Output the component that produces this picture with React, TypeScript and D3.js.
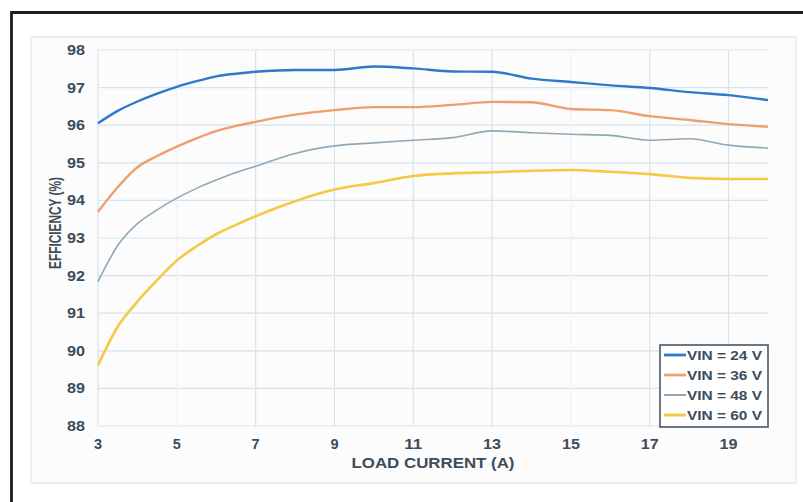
import React from "react";
import * as d3 from "d3";

const loadCurrent = [3, 3.5, 4, 4.5, 5, 5.5, 6, 6.5, 7, 8, 9, 10, 11, 12, 13, 14, 15, 16, 17, 18, 19, 20];
const vin24 = [96.05, 96.38, 96.63, 96.84, 97.02, 97.17, 97.3, 97.37, 97.42, 97.47, 97.47, 97.56, 97.51, 97.43, 97.42, 97.24, 97.15, 97.06, 96.99, 96.88, 96.8, 96.67];
const vin36 = [93.7, 94.35, 94.88, 95.18, 95.43, 95.65, 95.84, 95.98, 96.09, 96.28, 96.4, 96.48, 96.48, 96.54, 96.62, 96.61, 96.43, 96.4, 96.24, 96.14, 96.03, 95.96];
const vin48 = [91.84, 92.8, 93.38, 93.75, 94.06, 94.32, 94.54, 94.74, 94.91, 95.25, 95.45, 95.53, 95.6, 95.67, 95.85, 95.8, 95.76, 95.73, 95.6, 95.64, 95.47, 95.39];
const vin60 = [89.62, 90.64, 91.31, 91.88, 92.4, 92.78, 93.1, 93.35, 93.58, 93.98, 94.29, 94.46, 94.65, 94.72, 94.75, 94.79, 94.81, 94.76, 94.7, 94.6, 94.57, 94.57];
const seriesNames = ["VIN = 24 V", "VIN = 36 V", "VIN = 48 V", "VIN = 60 V"];
const xTicks = [3, 5, 7, 9, 11, 13, 15, 17, 19];
const yTicks = [88, 89, 90, 91, 92, 93, 94, 95, 96, 97, 98];

const seriesValues = [vin24, vin36, vin48, vin60];
const seriesColors = ["#2f78cc", "#ee9f6c", "#90a8b6", "#f6c843"];
const seriesWidths = [2.4, 2.4, 1.6, 2.6];

export default function App() {
  const W = 803, H = 502;
  const x = d3.scaleLinear().domain([3, 20]).range([98, 768]);
  const y = d3.scaleLinear().domain([88, 98]).range([426, 50]);
  const line = d3
    .line<[number, number]>()
    .x((d) => x(d[0]))
    .y((d) => y(d[1]))
    .curve(d3.curveMonotoneX);
  const font = "'Liberation Sans', Arial, sans-serif";
  const txt = "#3b4d5b";
  return (
    <svg width={W} height={H} style={{ position: "absolute", left: 0, top: 0 }} fontFamily={font}>
      <rect x={0} y={0} width={W} height={H} fill="#ffffff" />
      <path d={`M11.5,${H + 5} L11.5,12.5 L${W + 5},12.5`} fill="none" stroke="#1e1e1e" strokeWidth={2.8} />
      <rect x={31} y={37} width={765} height={446} fill="#fdfcfc" stroke="#e3e3e3" strokeWidth={1.2} />
      {yTicks.map((t) => (
        <line key={"gy" + t} x1={98} x2={768} y1={y(t)} y2={y(t)} stroke="#d5e3ee" strokeWidth={1.2} />
      ))}
      {xTicks.map((t) => (
        <line
          key={"gx" + t}
          x1={x(t)}
          x2={x(t)}
          y1={50}
          y2={426}
          stroke={t === 5 || t === 15 ? "#eef3f7" : "#d5e3ee"}
          strokeWidth={1.2}
        />
      ))}
      {yTicks.map((t) => (
        <text key={"ty" + t} x={85} y={y(t) + 5} textAnchor="end" fontSize={14.5} fontWeight="bold" fill={txt} textLength={18} lengthAdjust="spacingAndGlyphs">
          {t}
        </text>
      ))}
      {xTicks.map((t) => (
        <text
          key={"tx" + t}
          x={x(t)}
          y={448.5}
          textAnchor="middle"
          fontSize={14.5}
          fontWeight="bold"
          fill={txt}
          {...(t >= 10 ? { textLength: 18, lengthAdjust: "spacingAndGlyphs" } : {})}
        >
          {t}
        </text>
      ))}
      <text x={433} y={467.5} textAnchor="middle" fontSize={15.5} fontWeight="bold" fill={txt} textLength={163} lengthAdjust="spacingAndGlyphs">
        LOAD CURRENT (A)
      </text>
      <text
        transform={`translate(60.5,223) rotate(-90)`}
        textAnchor="middle"
        fontSize={16}
        fontWeight="bold"
        fill={txt}
        textLength={92}
        lengthAdjust="spacingAndGlyphs"
      >
        EFFICIENCY (%)
      </text>
      {seriesValues.map((vals, i) => (
        <path
          key={"s" + i}
          d={line(loadCurrent.map((c, j) => [c, vals[j]] as [number, number])) || ""}
          fill="none"
          stroke={seriesColors[i]}
          strokeWidth={seriesWidths[i]}
          strokeLinejoin="round"
        />
      ))}
      <rect x={660} y={345} width={108} height={82} fill="#ffffff" stroke="#5b6b78" strokeWidth={1.8} />
      {seriesNames.map((n, i) => {
        const yy = 355 + i * 20;
        return (
          <g key={"l" + i}>
            <line x1={664} x2={686} y1={yy} y2={yy} stroke={seriesColors[i]} strokeWidth={seriesWidths[i] + 0.4} />
            <text x={687} y={yy + 4.8} fontSize={13} fontWeight="bold" fill={txt} textLength={75} lengthAdjust="spacingAndGlyphs">
              {n}
            </text>
          </g>
        );
      })}
    </svg>
  );
}
